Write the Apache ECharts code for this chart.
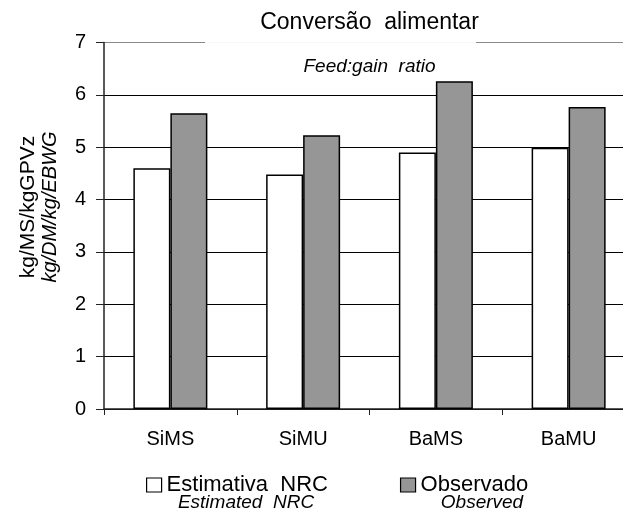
<!DOCTYPE html>
<html>
<head>
<meta charset="utf-8">
<script src="https://cdn.jsdelivr.net/npm/echarts@6/dist/echarts.min.js"></script>
<style>
html,body{margin:0;padding:0;background:#fff;}
#chart{width:623px;height:519px;}
</style>
</head>
<body>
<div id="chart"></div>
<script>
// ---- data ----
const categories = ['SiMS', 'SiMU', 'BaMS', 'BaMU'];
const estimativaNRC = [4.60, 4.48, 4.90, 4.99];
const observado = [5.65, 5.23, 6.26, 5.77];
const seriesNames = ['Estimativa NRC', 'Observado'];
const seriesNamesEn = ['Estimated  NRC', 'Observed'];
const yMin = 0, yMax = 7, yStep = 1;
const titleText = 'Conversão  alimentar';
const subtitleText = 'Feed:gain  ratio';
const yNamePt = 'kg/MS/kgGPVz';
const yNameEn = 'kg/DM/kg/EBWG';

const FONT = '"Liberation Sans", Arial, sans-serif';
const chart = echarts.init(document.getElementById('chart'), null, {renderer: 'canvas'});

const option = {
  backgroundColor: '#fff',
  animation: false,
  textStyle: {fontFamily: FONT, color: '#000'},
  title: {
    text: titleText,
    subtext: subtitleText,
    left: 369.5,
    textAlign: 'center',
    top: 11,
    padding: 0,
    itemGap: 22,
    textStyle: {fontFamily: FONT, fontSize: 23, fontWeight: 'normal', color: '#000', lineHeight: 24},
    subtextStyle: {fontFamily: FONT, fontSize: 19, fontStyle: 'italic', color: '#000', lineHeight: 20}
  },
  legend: {
    left: 146,
    top: 473,
    padding: 0,
    itemWidth: 15,
    itemHeight: 14,
    itemGap: 72,
    icon: 'rect',
    data: seriesNames,
    formatter: function (n) { return n.replace(' ', '  '); },
    itemStyle: {borderColor: '#000', borderWidth: 1.2},
    textStyle: {fontFamily: FONT, fontSize: 22, color: '#000', lineHeight: 24}
  },
  grid: {left: 104, top: 42.5, width: 531, height: 366.5, containLabel: false, outerBoundsMode: 'none'},
  xAxis: {
    type: 'category',
    data: categories,
    axisLine: {show: true, lineStyle: {color: '#222', width: 1.5}},
    axisTick: {show: true, length: 6, lineStyle: {color: '#222'}},
    axisLabel: {fontFamily: FONT, fontSize: 20, color: '#000', margin: 20}
  },
  yAxis: {
    type: 'value',
    min: yMin, max: yMax, interval: yStep,
    axisLine: {show: true, lineStyle: {color: '#222', width: 1.5}},
    axisTick: {show: true, length: 8, lineStyle: {color: '#222'}},
    axisLabel: {fontFamily: FONT, fontSize: 20, color: '#000', margin: 18},
    splitLine: {show: true, lineStyle: {color: ['#000','#000','#000','#000','#000','#000','#000','#8a8a8a'], width: 1}}
  },
  series: [
    {
      name: seriesNames[0], type: 'bar', data: estimativaNRC,
      barWidth: 37, barGap: '0%',
      itemStyle: {color: '#fff', borderColor: '#000', borderWidth: 1.5}
    },
    {
      name: seriesNames[1], type: 'bar', data: observado,
      barWidth: 37, barGap: '0%',
      itemStyle: {color: '#969696', borderColor: '#000', borderWidth: 1.5}
    }
  ],
  graphic: [
    {type: 'rect', left: 205, top: 39, z: 5, silent: true,
     shape: {width: 271, height: 8}, style: {fill: 'rgba(255,255,255,0.93)'}},
    {type: 'text', x: 28, y: 207, rotation: Math.PI / 2, z: 10,
     style: {text: yNamePt, fontFamily: FONT, fontSize: 21, fill: '#000', align: 'center', verticalAlign: 'middle'}},
    {type: 'text', x: 50, y: 207, rotation: Math.PI / 2, z: 10,
     style: {text: yNameEn, fontFamily: FONT, fontSize: 20, fontStyle: 'italic', fill: '#000', align: 'center', verticalAlign: 'middle'}},
    {type: 'text', x: 246, y: 503, z: 10,
     style: {text: seriesNamesEn[0], fontFamily: FONT, fontSize: 19, fontStyle: 'italic', fill: '#000', align: 'center', verticalAlign: 'middle'}},
    {type: 'text', x: 482, y: 503, z: 10,
     style: {text: seriesNamesEn[1], fontFamily: FONT, fontSize: 19, fontStyle: 'italic', fill: '#000', align: 'center', verticalAlign: 'middle'}}
  ]
};
chart.setOption(option);
</script>
</body>
</html>
